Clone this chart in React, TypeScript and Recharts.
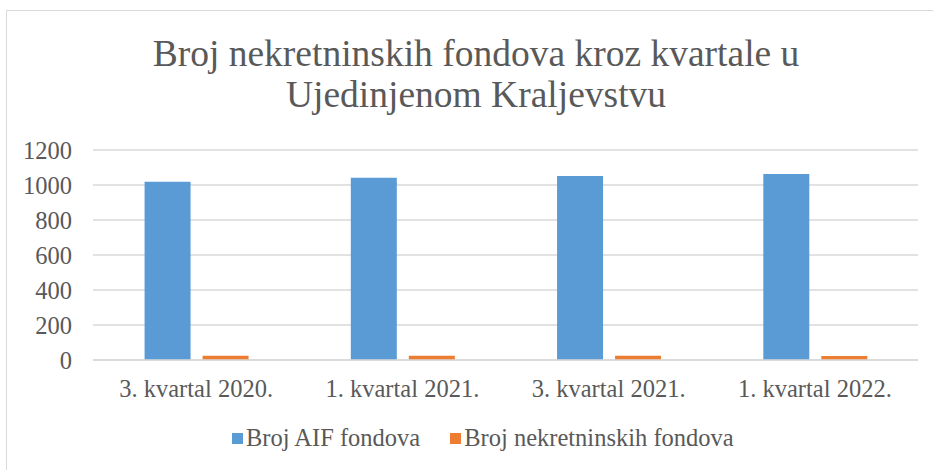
import React from "react";
import { BarChart, Bar, XAxis, YAxis, CartesianGrid } from "recharts";

const categories = ["3. kvartal 2020.", "1. kvartal 2021.", "3. kvartal 2021.", "1. kvartal 2022."];
const aifFunds = [1019, 1042, 1051, 1063];
const realEstateFunds = [25, 25, 25, 23];
const yTicks = [0, 200, 400, 600, 800, 1000, 1200];
const seriesNames = ["Broj AIF fondova", "Broj nekretninskih fondova"];
const seriesColors = ["#5b9bd5", "#ed7d31"];
const titleLines = ["Broj nekretninskih fondova kroz kvartale u", "Ujedinjenom Kraljevstvu"];

const data = categories.map((c, i) => ({ name: c, aif: aifFunds[i], re: realEstateFunds[i] }));

const FONT = "'Liberation Serif', serif";
const TEXT = "#595959";

export default function App() {
  return (
    <div style={{ position: "absolute", left: 0, top: 0, width: 933, height: 470, overflow: "hidden", background: "#fff", fontFamily: FONT }}>
      <div style={{ position: "absolute", left: 6, top: 10, width: 960, height: 500, border: "1.5px solid #d9d9d9", boxSizing: "border-box" }} />
      <div style={{ position: "absolute", left: 0, top: 33, width: 952, textAlign: "center", fontSize: 37.5, lineHeight: "41px", color: TEXT, fontFamily: FONT }}>
        {titleLines.map((t) => (
          <div key={t} style={{ fontFamily: FONT }}>{t}</div>
        ))}
      </div>
      <div style={{ position: "absolute", left: 0, top: 0 }}>
        <BarChart width={933} height={470} data={data} margin={{ top: 150, right: 15, bottom: 80, left: 0 }} barGap={12} barCategoryGap="25%">
          <CartesianGrid vertical={false} stroke="#d9d9d9" strokeWidth={1.5} />
          <XAxis dataKey="name" tickLine={false} axisLine={{ stroke: "#d9d9d9", strokeWidth: 1.5 }} tickSize={0} tickMargin={20} tick={{ fill: TEXT, fontSize: 24.5, fontFamily: FONT }} height={30} />
          <YAxis domain={[0, 1200]} ticks={yTicks} width={93} axisLine={false} tickLine={false} tickSize={0} tickMargin={21} tick={{ fill: TEXT, fontSize: 24.5, fontFamily: FONT }} />
          <Bar dataKey="aif" name={seriesNames[0]} fill={seriesColors[0]} isAnimationActive={false} />
          <Bar dataKey="re" name={seriesNames[1]} fill={seriesColors[1]} isAnimationActive={false} />
        </BarChart>
      </div>
      <div style={{ position: "absolute", left: 232, top: 424, display: "flex", alignItems: "center", fontSize: 24.5, color: TEXT, whiteSpace: "nowrap", fontFamily: FONT }}>
        {seriesNames.map((n, i) => (
          <div key={n} style={{ display: "flex", alignItems: "center", marginRight: i === 0 ? 30 : 0, fontFamily: FONT }}>
            <span style={{ display: "inline-block", width: 11, height: 11, background: seriesColors[i], marginRight: 3 }} />
            <span style={{ fontFamily: FONT }}>{n}</span>
          </div>
        ))}
      </div>
    </div>
  );
}
